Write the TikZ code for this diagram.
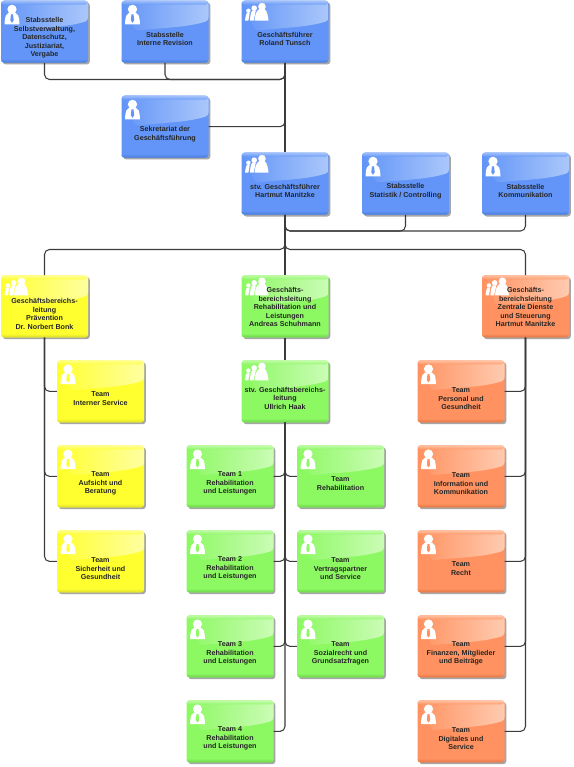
\documentclass[tikz,border=0pt]{standalone}
\usepackage{fontspec}
\setmainfont{Liberation Sans}
\usetikzlibrary{shadows}
\definecolor{linegrey}{HTML}{3C3C3C}
\definecolor{blueA}{HTML}{6295F7}\definecolor{blueB}{HTML}{ABC7FB}\definecolor{blueC}{HTML}{4A7BD8}
\definecolor{yelA}{HTML}{FFFF30}\definecolor{yelB}{HTML}{FFFFA0}\definecolor{yelC}{HTML}{DCDC28}
\definecolor{grnA}{HTML}{8CF862}\definecolor{grnB}{HTML}{CBFCB6}\definecolor{grnC}{HTML}{6CD24A}
\definecolor{orgA}{HTML}{FF9260}\definecolor{orgB}{HTML}{FFCBB0}\definecolor{orgC}{HTML}{DE7444}
\tikzset{
  x=1pt,y=-1pt,
  card/.style n args={3}{draw=none,rectangle,rounded corners=3pt,minimum width=87pt,minimum height=62pt,inner sep=0pt,
    fill=#1,
    general shadow={shadow xshift=1.8pt,shadow yshift=-1.8pt,fill=black!35,rounded corners=3pt},
    path picture={
      \coordinate (pa) at (path picture bounding box.north west);
      \coordinate (pb) at (path picture bounding box.south east);
      \shade[left color=#1,right color=#2] (pa) -- (pb|-pa) -- ([yshift=-20pt]pb|-pa)
         .. controls +(-22pt,-7pt) and +(26pt,3pt) .. ([xshift=14pt,yshift=-30pt]pa) -- cycle;
      \shade[top color=#2,bottom color=#2!0!#1,opacity=.8] (pa) rectangle ([yshift=-4pt]pb|-pa);
      \shade[top color=#1,bottom color=#3] ([yshift=4pt]pa|-pb) rectangle (pb);
    }},
  cardblue/.style={card={blueA}{blueB}{blueC}},
  cardyel/.style={card={yelA}{yelB}{yelC}},
  cardgrn/.style={card={grnA}{grnB}{grnC}},
  cardorg/.style={card={orgA}{orgB}{orgC}},
  cardtext/.style={align=center,font=\bfseries\fontsize{7.15pt}{8.5pt}\selectfont,text=black!85,inner sep=0pt},
  link/.style={draw=linegrey,line width=1.05pt,rounded corners=5pt},
  pics/person/.style={code={
    \fill[white] (0,0) circle[radius=4.6];
    \fill[white] (-3.5,3.6) .. controls (-6,5) and (-7,6) .. (-7.5,15) -- (7.5,15) .. controls (7,6) and (6,5) .. (3.5,3.6) -- cycle;
    \fill[#1] (-1,5) -- (1,5) -- (1.7,11) -- (0,13.5) -- (-1.7,11) -- cycle;
  }},
  pics/group/.style={code={
    \fill[white] (0,0) circle[radius=3.8];
    \fill[white] (-2.5,2.5) .. controls (-6,4) and (-7,9) .. (-7.5,14) -- (6.5,14) .. controls (6,9) and (5,4) .. (2.5,2.5) -- cycle;
    \fill[white] (-7.8,1.6) circle[radius=2.8];
    \fill[white] (-9.6,4) .. controls (-11.6,6) and (-11.6,10) .. (-12.2,14) -- (-8.4,14) .. controls (-7.6,10) and (-6.6,7) .. (-6.2,4) -- cycle;
    \fill[white] (-13.6,4.2) circle[radius=2.2];
    \fill[white] (-15.2,6.2) .. controls (-16.4,8) and (-16.4,10) .. (-17,14) -- (-13.6,14) .. controls (-13,10) and (-12.4,8) .. (-12.3,6.2) -- cycle;
  }},
}
% name, style, colour, icon, left, top, text shift, text
\newcommand{\orgcard}[8]{%
  \node[#2] (#1) at (#5+43.5,#6+30.7) {};
  \ifnum#4=1 \pic at (#5+11,#6+8.3) {person=#3};\else \pic at (#5+20.5,#6+5.6) {group};\fi
  \node[cardtext] (#1text) at (#5+43.5,#6+31+#7) {#8};
}
\begin{document}
\begin{tikzpicture}
\useasboundingbox (0,0) rectangle (573,767);
\fill[white] (0,0) rectangle (573,767);
\orgcard{sv}{cardblue}{blueA}{1}{1}{1}{6}{Stabsstelle\\Selbstverwaltung,\\Datenschutz,\\Justiziariat,\\Vergabe}
\orgcard{ir}{cardblue}{blueA}{1}{121.5}{1}{7}{Stabsstelle\\Interne Revision}
\orgcard{gf}{cardblue}{blueA}{2}{241.5}{1}{7}{Geschäftsführer\\Roland Tunsch}
\orgcard{sk}{cardblue}{blueA}{1}{121.5}{96}{7}{Sekretariat der\\Geschäftsführung}
\orgcard{sg}{cardblue}{blueA}{2}{241.5}{153}{7}{stv. Geschäftsführer\\Hartmut Manitzke}
\orgcard{sc}{cardblue}{blueA}{1}{362}{153}{7}{Stabsstelle\\Statistik / Controlling}
\orgcard{kk}{cardblue}{blueA}{1}{482}{153}{7}{Stabsstelle\\Kommunikation}
\orgcard{gp}{cardyel}{yelA}{2}{1}{275.7}{7}{Geschäftsbereichs-\\leitung\\Prävention\\Dr. Norbert Bonk}
\orgcard{gr}{cardgrn}{grnA}{2}{241.5}{275.7}{0.5}{Geschäfts-\\bereichsleitung\\Rehabilitation und\\Leistungen\\Andreas Schuhmann}
\orgcard{gz}{cardorg}{orgA}{2}{482}{275.7}{0.5}{Geschäfts-\\bereichsleitung\\Zentrale Dienste\\und Steuerung\\Hartmut Manitzke}
\orgcard{sr}{cardgrn}{grnA}{2}{241.5}{360.7}{6.5}{stv. Geschäftsbereichs-\\leitung\\Ullrich Haak}
\orgcard{y1}{cardyel}{yelA}{1}{57}{360.7}{7}{Team\\Interner Service}
\orgcard{y2}{cardyel}{yelA}{1}{57}{445.7}{7}{Team\\Aufsicht und\\Beratung}
\orgcard{y3}{cardyel}{yelA}{1}{57}{530.7}{7}{Team\\Sicherheit und\\Gesundheit}
\orgcard{t1}{cardgrn}{grnA}{1}{186.5}{445.7}{7}{Team 1\\Rehabilitation\\und Leistungen}
\orgcard{t2}{cardgrn}{grnA}{1}{186.5}{530.7}{7}{Team 2\\Rehabilitation\\und Leistungen}
\orgcard{t3}{cardgrn}{grnA}{1}{186.5}{615.7}{7}{Team 3\\Rehabilitation\\und Leistungen}
\orgcard{t4}{cardgrn}{grnA}{1}{186.5}{700.7}{7}{Team 4\\Rehabilitation\\und Leistungen}
\orgcard{r1}{cardgrn}{grnA}{1}{297}{445.7}{7}{Team\\Rehabilitation}
\orgcard{r2}{cardgrn}{grnA}{1}{297}{530.7}{7}{Team\\Vertragspartner\\und Service}
\orgcard{r3}{cardgrn}{grnA}{1}{297}{615.7}{7}{Team\\Sozialrecht und\\Grundsatzfragen}
\orgcard{o1}{cardorg}{orgA}{1}{417.5}{360.7}{7}{Team\\Personal und\\Gesundheit}
\orgcard{o2}{cardorg}{orgA}{1}{417.5}{445.7}{7}{Team\\Information und\\Kommunikation}
\orgcard{o3}{cardorg}{orgA}{1}{417.5}{530.7}{7}{Team\\Recht}
\orgcard{o4}{cardorg}{orgA}{1}{417.5}{615.7}{7}{Team\\Finanzen, Mitglieder\\und Beiträge}
\orgcard{o5}{cardorg}{orgA}{1}{417.5}{700.7}{7}{Team\\Digitales und\\Service}
% connectors
\path[link] (sv.south) -- (sv.south|-0,79.5) -- (gf.south|-0,79.5) -- (gf.south);
\path[link] (ir.south) -- (ir.south|-0,79.5) -- (gf.south|-0,79.5) -- (gf.south);
\path[link] (sk.east) -| (gf.south);
\path[link] (gf.south) -- (sg.north);
\path[link] (sc.south) -- (sc.south|-0,231) -- (sg.south|-0,231) -- (sg.south);
\path[link] (kk.south) -- (kk.south|-0,231) -- (sg.south|-0,231) -- (sg.south);
\path[link] (gp.north) -- (gp.north|-0,249.5) -- (sg.south|-0,249.5) -- (sg.south);
\path[link] (gz.north) -- (gz.north|-0,249.5) -- (sg.south|-0,249.5) -- (sg.south);
\path[link] (gr.north) -- (sg.south);
\path[link] (gr.south) -- (sr.north);
\foreach \t in {y1,y2,y3}{\path[link] (\t.west) -| (gp.south);}
\foreach \t in {t1,t2,t3,t4}{\path[link] (\t.east) -| (sr.south);}
\foreach \t in {r1,r2,r3}{\path[link] (\t.west) -| (sr.south);}
\foreach \t in {o1,o2,o3,o4,o5}{\path[link] (\t.east) -| (gz.south);}
\end{tikzpicture}
\end{document}
